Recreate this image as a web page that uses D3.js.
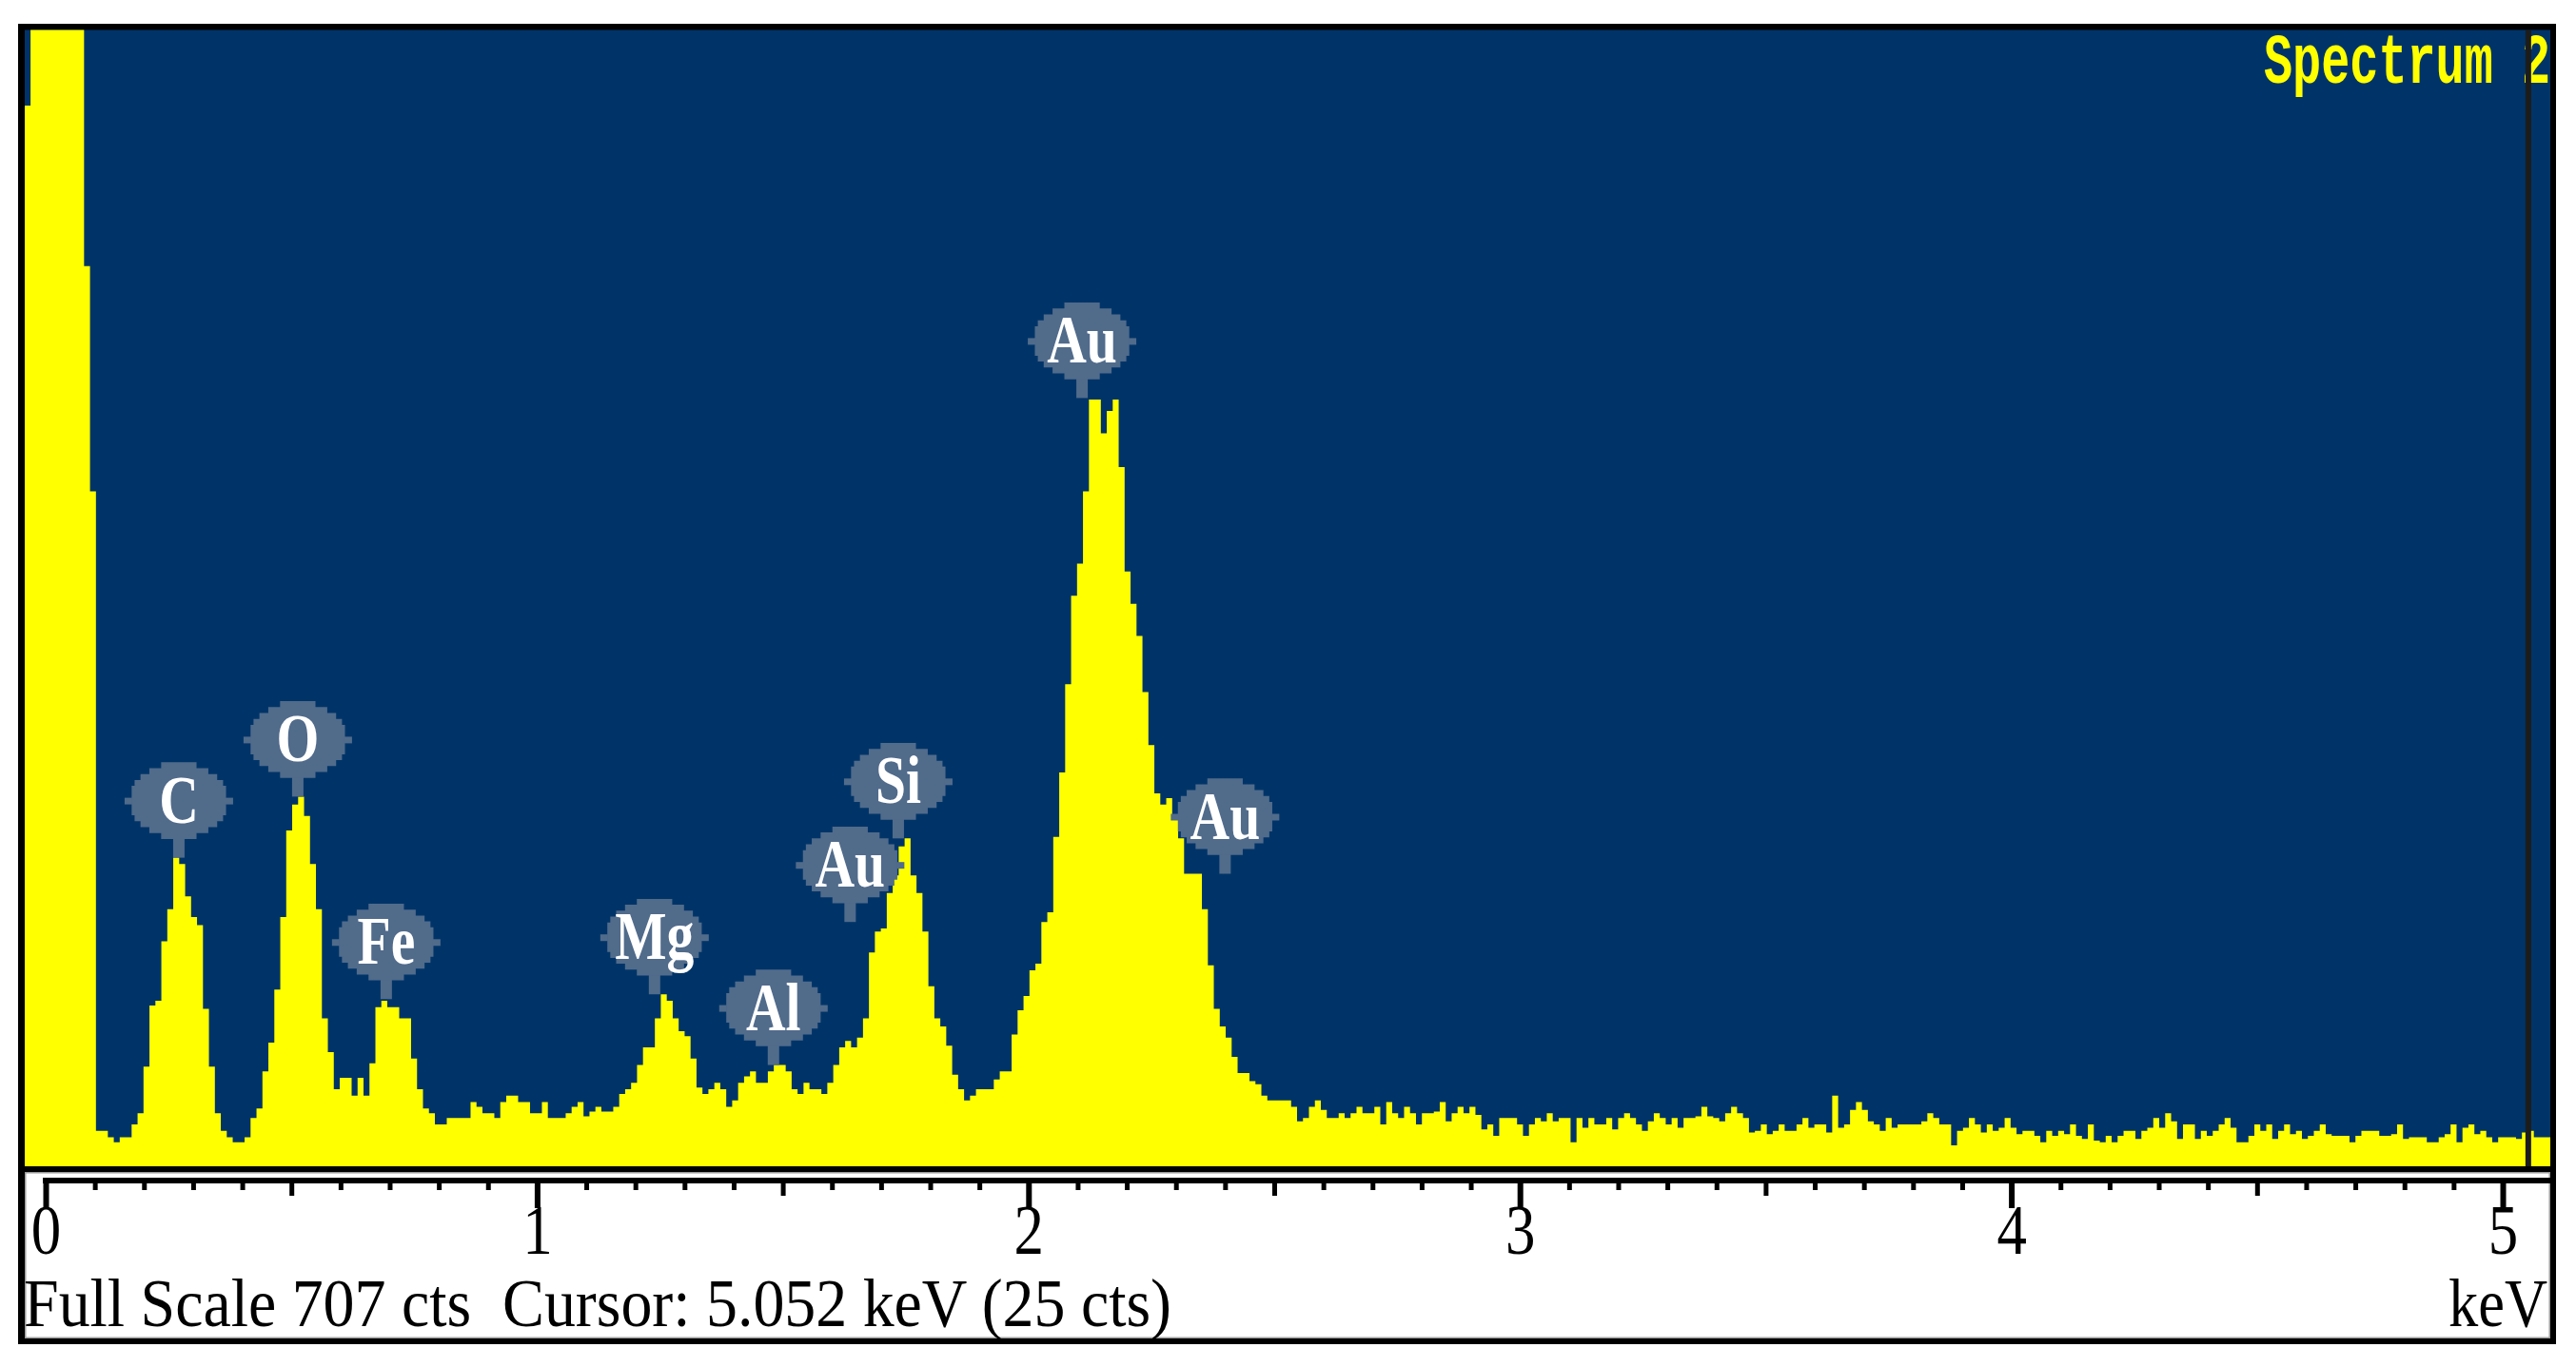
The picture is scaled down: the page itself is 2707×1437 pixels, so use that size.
<!DOCTYPE html>
<html>
<head>
<meta charset="utf-8">
<script src="https://cdn.jsdelivr.net/npm/d3@7"></script>
<style>
html,body{margin:0;padding:0;background:#ffffff;overflow:hidden}
svg{display:block}
</style>
</head>
<body>
<svg id="chart" width="2707" height="1437"></svg>
<script>
// ---------------- data ----------------
const spectrumTitle = "Spectrum 2";
const footerText = "Full Scale 707 cts  Cursor: 5.052 keV (25 cts)";
const unitLabel = "keV";
const fullScale = 707;          // cts at top of plot
const cursorEnergy = 5.052;     // keV
const channelStart = -0.0429;   // keV, lower edge of first channel
const channelWidth = 0.01210;   // keV per channel

// counts per channel
const counts = [
  660,1500,1500,1500,1500,1500,1500,1500,1500,1500,
  560,420,22,22,18,15,18,18,26,33,
  62,100,103,140,160,192,188,168,155,150,
  98,62,33,22,18,15,15,18,30,36,
  59,77,110,155,209,225,230,218,188,160,
  92,71,48,55,55,44,55,44,64,99,
  103,99,99,92,92,67,48,36,33,26,
  26,30,30,30,30,40,37,33,33,30,
  40,44,44,40,40,33,33,40,30,30,
  30,33,37,40,31,34,37,34,34,37,
  45,48,52,63,74,74,92,107,103,92,
  84,81,67,49,45,48,52,48,37,41,
  52,56,59,52,52,59,63,63,59,48,
  45,52,48,48,45,52,63,74,78,74,
  80,92,133,146,148,170,181,199,204,181,
  170,146,112,92,87,75,57,48,41,44,
  48,48,48,54,59,59,82,97,106,122,
  126,152,158,205,245,300,355,375,420,477,
  477,456,470,477,435,370,350,330,295,262,
  232,225,229,218,204,182,182,182,160,125,
  98,87,80,68,58,58,53,51,44,41,
  41,41,41,37,28,30,37,41,35,
  30,30,33,30,33,37,33,33,37,26,
  40,33,30,37,33,26,33,33,34,40,
  28,33,37,33,37,32,23,26,19,30,
  30,30,26,19,26,30,28,33,28,30,
  30,15,30,24,30,26,26,30,23,30,
  33,30,26,22,28,33,30,26,30,24,
  30,30,31,37,31,30,28,33,37,33,
  30,21,22,26,20,22,26,22,22,26,
  30,24,26,26,21,44,24,26,35,40,
  35,28,26,22,30,24,26,26,26,26,
  28,33,
  30,26,26,13,22,24,30,26,21,26,
  22,24,30,24,20,22,22,19,15,22,
  19,22,20,26,19,17,26,16,15,19,
  15,19,22,22,17,22,24,30,24,33,
  28,17,26,26,17,22,19,22,26,30,
  24,15,15,19,26,22,26,17,22,26,
  20,22,17,19,22,26,20,19,19,19,
  15,19,22,22,22,19,19,20,26,17,
  18,18,18,15,15,18,20,26,15,24,
  26,20,22,18,15,18,18,18,17,21,
  22,18,18,
  18
];

const majorTicks = [0, 1, 2, 3, 4, 5];
const halfTicks = [0.5, 1.5, 2.5, 3.5, 4.5];
const minorTicks = [0.1,0.2,0.3,0.4,0.6,0.7,0.8,0.9,
                    1.1,1.2,1.3,1.4,1.6,1.7,1.8,1.9,
                    2.1,2.2,2.3,2.4,2.6,2.7,2.8,2.9,
                    3.1,3.2,3.3,3.4,3.6,3.7,3.8,3.9,
                    4.1,4.2,4.3,4.4,4.6,4.7,4.8,4.9];

const peakLabels   = ["C", "O", "Fe", "Mg", "Al", "Au", "Si", "Au", "Au"];
const peakEnergies = [0.271, 0.513, 0.693, 1.239, 1.481, 1.637, 1.735, 2.109, 2.400];
const peakHeights  = [192, 230, 104, 107, 63, 152, 204, 478, 182];

// ---------------- layout ----------------
const svg = d3.select("#chart");
const frame = {left: 19, top: 25, right: 2686, bottom: 1413};
const plot = {left: 26, top: 31.5, right: 2680, bottom: 1226};
const panel = {top: 1232, bottom: 1407};
const axisY = 1241;

const COL_BG = "#003468";
const COL_SPEC = "#ffff00";
const COL_BLOB = "#516b8b";

const x = d3.scaleLinear().domain([0, 5]).range([48, 2630]);
const y = d3.scaleLinear().domain([0, fullScale]).range([plot.bottom, plot.top]);

// outer black frame
svg.append("rect")
  .attr("x", frame.left).attr("y", frame.top)
  .attr("width", frame.right - frame.left).attr("height", frame.bottom - frame.top)
  .attr("fill", "#000");

// plot background
svg.append("rect")
  .attr("x", plot.left).attr("y", plot.top)
  .attr("width", plot.right - plot.left).attr("height", plot.bottom - plot.top)
  .attr("fill", COL_BG);

// axis panel
svg.append("rect")
  .attr("x", plot.left).attr("y", panel.top)
  .attr("width", plot.right - plot.left).attr("height", panel.bottom - panel.top)
  .attr("fill", "#fff");
svg.append("rect")
  .attr("x", plot.left + 0.75).attr("y", panel.top + 0.75)
  .attr("width", plot.right - plot.left - 1.5).attr("height", panel.bottom - panel.top - 1.5)
  .attr("fill", "none").attr("stroke", "#9c9c9c").attr("stroke-width", 1.5);

// clip
svg.append("defs").append("clipPath").attr("id", "plotClip")
  .append("rect")
  .attr("x", plot.left).attr("y", plot.top)
  .attr("width", plot.right - plot.left).attr("height", plot.bottom - plot.top);

// spectrum
const pts = counts.map((c, i) => ({e: channelStart + i * channelWidth, c: c}));
pts.push({e: channelStart + counts.length * channelWidth, c: counts[counts.length - 1]});
const area = d3.area()
  .curve(d3.curveStepAfter)
  .x(d => x(d.e))
  .y0(y(0))
  .y1(d => y(d.c));

const gPlot = svg.append("g").attr("clip-path", "url(#plotClip)");
gPlot.append("path").datum(pts).attr("d", area).attr("fill", COL_SPEC);

// title
gPlot.append("text")
  .attr("transform", "translate(2379,87) scale(1,1.5)")
  .attr("font-family", "Liberation Mono, DejaVu Sans Mono, monospace")
  .attr("font-weight", "bold")
  .attr("font-size", 50)
  .attr("textLength", 301)
  .attr("lengthAdjust", "spacingAndGlyphs")
  .attr("fill", COL_SPEC)
  .text(spectrumTitle);

// peak labels
const pxSize = 6.2;
function blobPath(cx, cy) {
  const rx = 51, ry = 39.5, rows = 13;
  const h = rows * pxSize, top = cy - h / 2;
  const left = [], right = [];
  for (let j = 0; j < rows; j++) {
    const y0 = top + j * pxSize, y1 = y0 + pxSize;
    const dy = (y0 + y1) / 2 - cy;
    let hw = rx * Math.sqrt(Math.max(0, 1 - (dy / ry) * (dy / ry)));
    hw = Math.max(pxSize * 1.5, Math.round(hw / (pxSize / 2)) * (pxSize / 2));
    left.push([cx - hw, y0], [cx - hw, y1]);
    right.push([cx + hw, y0], [cx + hw, y1]);
  }
  const all = left.concat(right.reverse());
  return "M" + all.map(p => p[0].toFixed(2) + "," + p[1].toFixed(2)).join("L") + "Z";
}

const labelData = peakLabels.map((name, i) => ({name, e: peakEnergies[i], h: peakHeights[i]}));
const gLab = gPlot.selectAll("g.lab").data(labelData).join("g").attr("class", "lab");
gLab.each(function(d) {
  const g = d3.select(this);
  const cx = x(d.e), sb = y(d.h), cy = sb - 60;
  const half = 13 * pxSize / 2;
  g.append("rect").attr("x", cx - 6).attr("y", cy + half - 1).attr("width", 12)
    .attr("height", sb - (cy + half) + 1).attr("fill", COL_BLOB);
  g.append("path").attr("d", blobPath(cx, cy)).attr("fill", COL_BLOB);
  g.append("rect").attr("x", cx - 57).attr("y", cy - 3).attr("width", 8).attr("height", 7).attr("fill", COL_BLOB);
  g.append("rect").attr("x", cx + 49).attr("y", cy - 3).attr("width", 8).attr("height", 7).attr("fill", COL_BLOB);
  g.append("text")
    .attr("transform", `translate(${cx},${cy + 23}) scale(0.8,1)`)
    .attr("text-anchor", "middle")
    .attr("font-family", "Liberation Serif, DejaVu Serif, serif")
    .attr("font-weight", "bold")
    .attr("font-size", 72)
    .attr("fill", "#ffffff")
    .text(d.name);
});

// cursor line
gPlot.append("rect")
  .attr("x", x(cursorEnergy) - 3).attr("y", plot.top)
  .attr("width", 6).attr("height", plot.bottom - plot.top)
  .attr("fill", "#1c1c1c");

// ---------------- axis ----------------
svg.append("rect")
  .attr("x", x(0) - 3).attr("y", axisY - 3)
  .attr("width", plot.right - x(0) + 3).attr("height", 6)
  .attr("fill", "#000");

const gMinor = svg.append("g").attr("transform", `translate(0,${axisY})`)
  .call(d3.axisBottom(x).tickValues(minorTicks).tickSize(10).tickFormat(""));
gMinor.select(".domain").remove();
gMinor.selectAll("line").attr("stroke", "#000").attr("stroke-width", 5);

const gHalf = svg.append("g").attr("transform", `translate(0,${axisY})`)
  .call(d3.axisBottom(x).tickValues(halfTicks).tickSize(16).tickFormat(""));
gHalf.select(".domain").remove();
gHalf.selectAll("line").attr("stroke", "#000").attr("stroke-width", 5);

const gMajor = svg.append("g").attr("transform", `translate(0,${axisY})`)
  .call(d3.axisBottom(x).tickValues(majorTicks).tickSize(29).tickFormat(d3.format("d")));
gMajor.select(".domain").remove();
gMajor.selectAll("line").attr("stroke", "#000").attr("stroke-width", 6);
gMajor.selectAll("text")
  .attr("y", 1318 - axisY).attr("dy", null)
  .attr("transform", "scale(0.85,1)")
  .attr("font-family", "Liberation Serif, DejaVu Serif, serif")
  .attr("font-size", 74)
  .attr("fill", "#000");

// footer texts
svg.append("text")
  .attr("x", 25).attr("y", 1394)
  .style("white-space", "pre")
  .attr("font-family", "Liberation Serif, DejaVu Serif, serif")
  .attr("font-size", 72)
  .attr("textLength", 1206)
  .attr("lengthAdjust", "spacingAndGlyphs")
  .attr("fill", "#000")
  .text(footerText);

svg.append("text")
  .attr("x", 2573).attr("y", 1394)
  .attr("font-family", "Liberation Serif, DejaVu Serif, serif")
  .attr("font-size", 72)
  .attr("textLength", 104)
  .attr("lengthAdjust", "spacingAndGlyphs")
  .attr("fill", "#000")
  .text(unitLabel);
</script>
</body>
</html>
